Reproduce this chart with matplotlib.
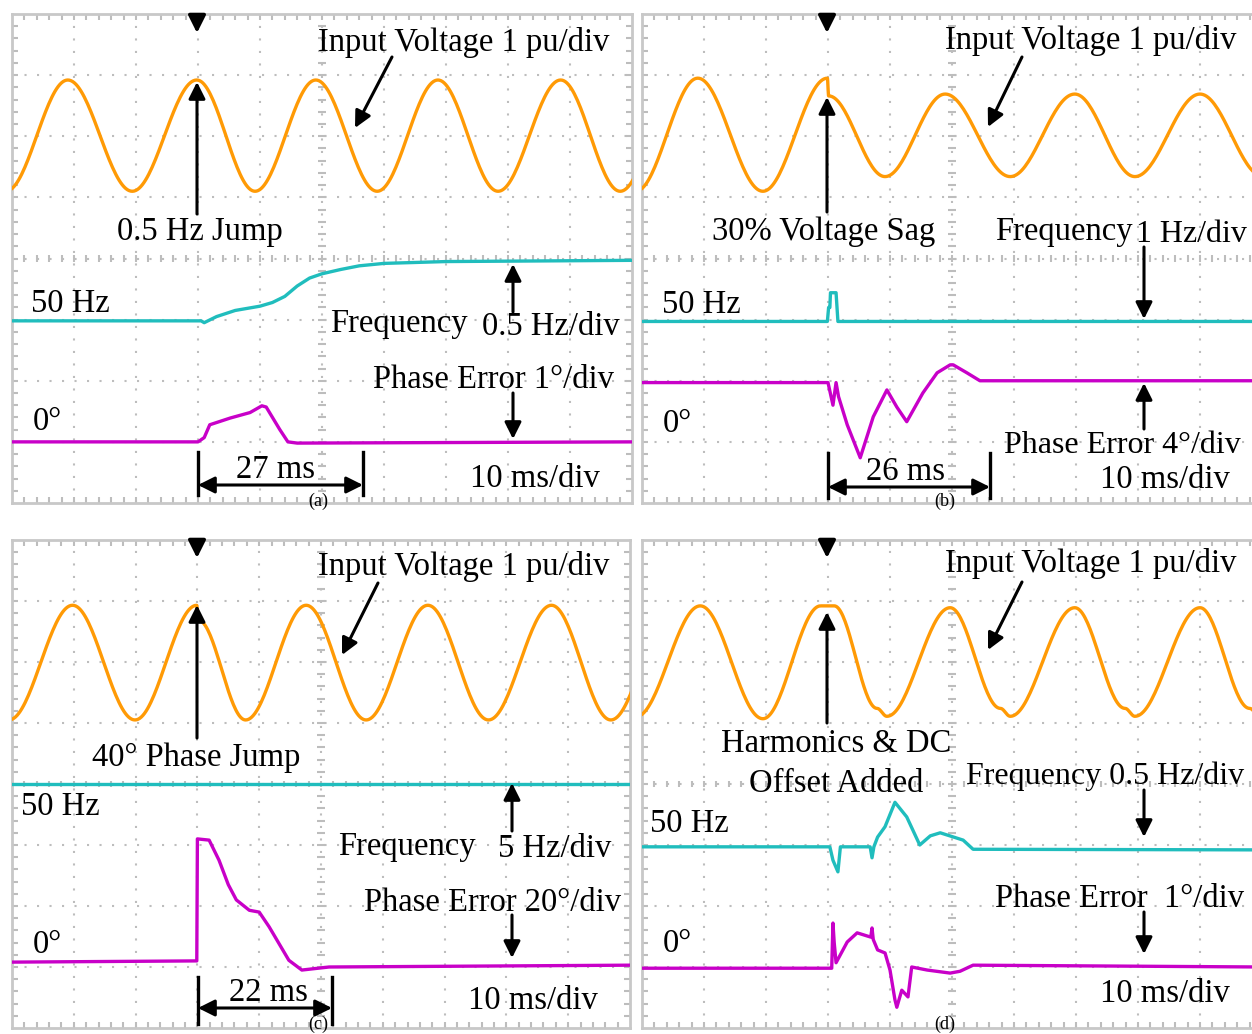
import numpy as np
import matplotlib
matplotlib.use("Agg")
import matplotlib.pyplot as plt

# ---------------- data (time in ms, amplitude in screen divisions) ----------------
# (a) 0.5 Hz frequency jump
a_volt_t = [-1.0, 9.0, 19.4, 29.8, 39.2, 49.0, 58.9, 68.7, 78.4, 88.5, 98.1, 108.0]
a_volt_v = [5.10, 6.92, 5.10, 6.92, 5.10, 6.92, 5.10, 6.92, 5.10, 6.92, 5.10, 6.92]
a_freq_t = [0, 30.5, 31.0, 33.0, 36.0, 40.0, 42.0, 44.0, 46.0, 48.0, 50.0, 53.0, 56.0, 60.0, 70.0, 100]
a_freq_v = [2.98, 2.98, 2.95, 3.05, 3.15, 3.22, 3.28, 3.38, 3.55, 3.68, 3.75, 3.82, 3.88, 3.92, 3.95, 3.97]
a_phase_t = [0, 30.0, 31.0, 31.9, 35.2, 38.4, 40.3, 41.0, 43.2, 44.5, 46.0, 100]
a_phase_v = [1.0, 1.0, 1.07, 1.28, 1.39, 1.48, 1.59, 1.57, 1.2, 1.0, 0.98, 1.0]

# (b) 30 % voltage sag
b_volt_t = [-1.0, 9.0, 19.5, 29.9, 30.1, 39.2, 48.9, 59.4, 69.8, 79.5, 90.0, 100.2]
b_volt_v = [5.10, 6.95, 5.10, 6.95, 6.66, 5.34, 6.69, 5.34, 6.69, 5.34, 6.69, 5.34]
b_freq_t = [0, 29.9, 30.1, 30.3, 30.4, 31.3, 31.6, 100]
b_freq_v = [2.97, 2.97, 3.2, 3.2, 3.44, 3.44, 2.97, 2.97]
b_phase_t = [0, 30.0, 30.8, 31.3, 31.7, 33.1, 35.2, 37.3, 39.5, 41.1, 42.7, 45.3, 47.6, 49.7, 50.2, 52.4, 54.5, 100]
b_phase_v = [1.97, 1.97, 1.6, 1.97, 1.74, 1.28, 0.74, 1.41, 1.85, 1.57, 1.33, 1.8, 2.13, 2.26, 2.26, 2.13, 2.0, 2.0]

# (c) 40 degree phase jump
c_volt_t = [-0.5, 9.8, 19.9, 29.9, 30.1, 37.8, 47.6, 57.3, 67.3, 77.1, 87.3, 96.9, 107.0]
c_volt_v = [5.05, 6.93, 5.05, 6.93, 6.69, 5.05, 6.93, 5.05, 6.93, 5.05, 6.93, 5.05, 6.93]
c_freq_t = [0, 100]
c_freq_v = [4.0, 4.0]
c_phase_t = [0, 29.9, 30.0, 31.9, 33.5, 35.0, 36.3, 38.4, 40.0, 41.6, 44.8, 46.9, 51.3, 100]
c_phase_v = [1.08, 1.1, 3.1, 3.08, 2.75, 2.35, 2.1, 1.93, 1.9, 1.66, 1.11, 0.95, 1.0, 1.03]

# (d) harmonics & DC offset
d_volt_t = [-1.0, 9.4, 19.5, 28.8, 31.0, 37.9, 39.5, 49.7, 57.8, 59.4, 69.8, 77.9, 79.5, 90.0, 98.0, 99.6]
d_volt_v = [5.10, 6.92, 5.07, 6.92, 6.92, 5.24, 5.11, 6.89, 5.24, 5.11, 6.89, 5.24, 5.11, 6.89, 5.24, 5.11]
d_freq_t = [0, 30.3, 30.8, 31.6, 32.0, 36.8, 37.1, 37.4, 38.0, 39.2, 40.8, 42.7, 44.8, 46.5, 48.1, 51.8, 53.4, 100]
d_freq_v = [2.97, 2.97, 2.75, 2.56, 2.97, 2.97, 2.79, 2.97, 3.13, 3.3, 3.7, 3.46, 3.0, 3.15, 3.2, 3.08, 2.93, 2.92]
d_phase_t = [0, 30.6, 30.8, 31.0, 31.3, 33.1, 34.7, 36.9, 37.1, 37.3, 38.0, 39.2, 40.0, 40.8, 41.1, 41.9, 42.9, 43.5, 46.0, 49.7, 51.3, 53.4, 100]
d_phase_v = [0.98, 0.98, 1.72, 1.4, 1.07, 1.41, 1.56, 1.49, 1.64, 1.45, 1.28, 1.23, 0.95, 0.46, 0.34, 0.62, 0.51, 1.0, 0.95, 0.9, 0.93, 1.03, 1.0]

# ---------------- style ----------------
ORANGE = "#FF9A05"
CYAN = "#20BDBD"
MAGENTA = "#C800C8"
GRID = "#BDBDBD"
FONT = "Liberation Serif"
FS = 23.5

W, H = 1252, 1034
fig = plt.figure(figsize=(W / 100, H / 100), dpi=100)


def add_panel(left, top, width, height):
    ax = fig.add_axes([left / W, (H - top - height) / H, width / W, height / H])
    ax.set_xlim(0, 100)
    ax.set_ylim(0, 8)
    ax.set_xticks([])
    ax.set_yticks([])
    for s in ax.spines.values():
        s.set_color("#C8C8C8")
        s.set_linewidth(2)
    # dotted grid
    for gx in range(1, 10):
        ax.plot([gx * 10, gx * 10], [0, 8], color=GRID, lw=1.5, dashes=(1, 5), zorder=0)
    for gy in range(1, 8):
        ax.plot([0, 100], [gy, gy], color=GRID, lw=1.5, dashes=(1, 5), zorder=0)
    # minor ticks on edges and centre lines
    xs = np.arange(2, 100, 2)
    ys = np.arange(0.2, 8, 0.2)
    for x in xs:
        for y0, y1 in ((7.9, 8.0), (0.0, 0.1), (3.95, 4.05)):
            ax.plot([x, x], [y0, y1], color=GRID, lw=1.5, zorder=0, solid_capstyle="butt")
    for y in ys:
        for x0, x1 in ((0, 1.0), (99.0, 100), (49.4, 50.6)):
            ax.plot([x0, x1], [y, y], color=GRID, lw=1.5, zorder=0, solid_capstyle="butt")
    return ax


def sine_path(tk, vk, n=40):
    ts, vs = [], []
    for i in range(len(tk) - 1):
        s = np.linspace(0, 1, n)
        ts.append(tk[i] + (tk[i + 1] - tk[i]) * s)
        vs.append(vk[i] + (vk[i + 1] - vk[i]) * (1 - np.cos(np.pi * s)) / 2)
    return np.concatenate(ts), np.concatenate(vs)


panels = [
    ((12, 14, 620, 489), a_volt_t, a_volt_v, a_freq_t, a_freq_v, a_phase_t, a_phase_v),
    ((642, 14, 620, 489), b_volt_t, b_volt_v, b_freq_t, b_freq_v, b_phase_t, b_phase_v),
    ((12, 540, 618, 488), c_volt_t, c_volt_v, c_freq_t, c_freq_v, c_phase_t, c_phase_v),
    ((642, 540, 620, 488), d_volt_t, d_volt_v, d_freq_t, d_freq_v, d_phase_t, d_phase_v),
]
for box, vt, vv, ft, fv, pt, pv in panels:
    ax = add_panel(*box)
    t, v = sine_path(vt, vv)
    ax.plot(t, v, color=ORANGE, lw=2.4, zorder=3)
    ax.plot(ft, fv, color=CYAN, lw=2.4, zorder=3)
    ax.plot(pt, pv, color=MAGENTA, lw=2.4, zorder=3)

# ---------------- annotation overlay (pixel coordinates) ----------------
ov = fig.add_axes([0, 0, 1, 1], zorder=10)
ov.set_xlim(0, W)
ov.set_ylim(H, 0)
ov.axis("off")
ov.patch.set_alpha(0)


def txt(x, y, s, ha="left", size=FS):
    ov.text(x, y, s, ha=ha, va="baseline", fontsize=size, family=FONT, color="black")


def arrow(tail, tip, style="-|>"):
    ov.annotate("", xy=tip, xytext=tail,
                arrowprops=dict(arrowstyle=style, lw=2.2, color="black",
                                mutation_scale=25, shrinkA=0, shrinkB=0))


def trigger(x, y):
    ov.annotate("", xy=(x, y + 8), xytext=(x, y - 8),
                arrowprops=dict(arrowstyle="-|>", lw=2.6, color="black",
                                mutation_scale=26, shrinkA=0, shrinkB=0))


def span(x0, x1, y, ytop, ybot):
    arrow((x0, y), (x1, y), style="<|-|>")
    ov.plot([x0, x0], [ytop, ybot], color="black", lw=2.4)
    ov.plot([x1, x1], [ytop, ybot], color="black", lw=2.4)


# (a)
trigger(197, 25)
txt(318, 51, "Input Voltage 1 pu/div")
arrow((392, 57), (355, 128))
txt(117, 240, "0.5 Hz Jump")
arrow((197, 214), (197, 82))
txt(31, 312, "50 Hz")
txt(330, 332, "Frequency")
txt(482, 335, "0.5 Hz/div")
arrow((513, 312), (513, 264))
txt(373, 388, "Phase Error 1°/div")
arrow((513, 393), (513, 439))
txt(33, 430, "0°")
txt(275, 478, "27 ms", ha="center")
span(198, 363, 485, 452, 495)
txt(470, 487, "10 ms/div")
txt(318, 506, "(a)", ha="center", size=13)

# (b)
trigger(827, 25)
txt(945, 49, "Input Voltage 1 pu/div")
arrow((1022, 57), (988, 127))
txt(712, 240, "30% Voltage Sag")
arrow((827, 212), (827, 97))
txt(995, 240, "Frequency")
txt(1136, 242, "1 Hz/div", size=23)
arrow((1144, 247), (1144, 319))
txt(662, 313, "50 Hz")
txt(663, 432, "0°")
arrow((1144, 429), (1144, 383))
txt(1004, 453, "Phase Error 4°/div", size=23)
txt(1100, 488, "10 ms/div")
txt(906, 480, "26 ms", ha="center")
span(828, 990, 487, 453, 498)
txt(945, 506, "(b)", ha="center", size=13)

# (c)
trigger(197, 550)
txt(318, 575, "Input Voltage 1 pu/div")
arrow((378, 583), (342, 655))
txt(92, 766, "40° Phase Jump")
arrow((197, 738), (197, 605))
txt(21, 815, "50 Hz")
txt(338, 855, "Frequency")
txt(498, 857, "5 Hz/div")
arrow((512, 831), (512, 783))
txt(364, 911, "Phase Error 20°/div")
arrow((512, 915), (512, 958))
txt(33, 953, "0°")
txt(268, 1001, "22 ms", ha="center")
span(198, 332, 1008, 977, 1024)
txt(468, 1009, "10 ms/div")
txt(318, 1029, "(c)", ha="center", size=13)

# (d)
trigger(827, 550)
txt(945, 572, "Input Voltage 1 pu/div")
arrow((1022, 582), (988, 650))
txt(836, 752, "Harmonics & DC", ha="center")
txt(836, 792, "Offset Added", ha="center")
arrow((827, 723), (827, 612))
txt(966, 784, "Frequency 0.5 Hz/div", size=23)
arrow((1144, 790), (1144, 837))
txt(650, 832, "50 Hz")
txt(995, 907, "Phase Error  1°/div")
arrow((1144, 912), (1144, 954))
txt(663, 952, "0°")
txt(1100, 1002, "10 ms/div")
txt(945, 1029, "(d)", ha="center", size=13)

fig.savefig("out.png", dpi=100)
